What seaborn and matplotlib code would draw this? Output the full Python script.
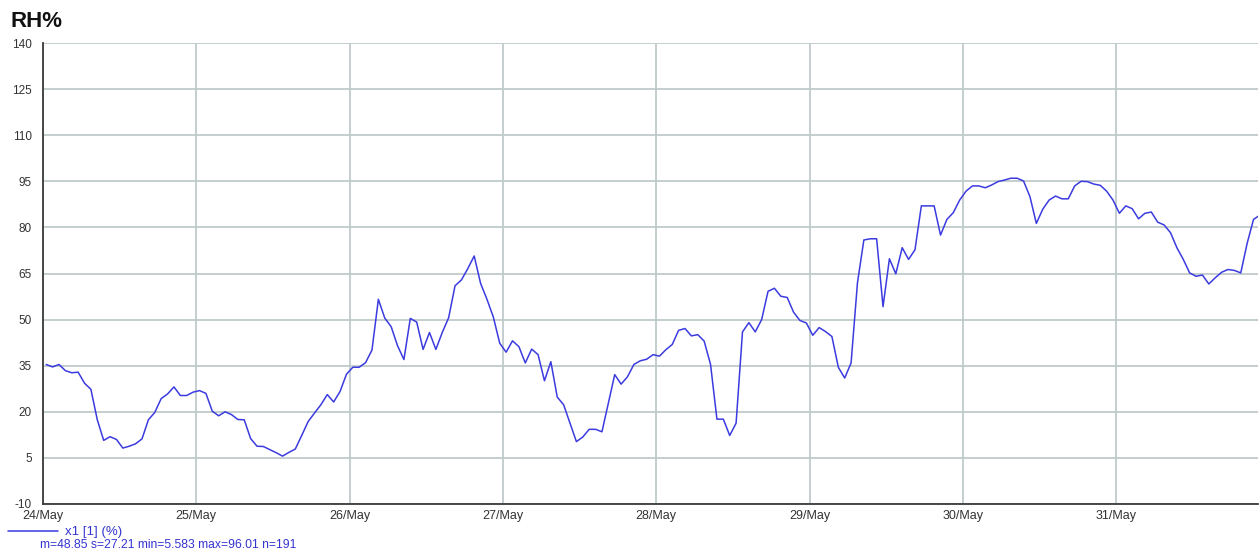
import matplotlib
matplotlib.use("Agg")
import matplotlib.dates as mdates
import matplotlib.pyplot as plt
import numpy as np
import pandas as pd
import seaborn as sns

# hourly relative humidity readings, first sample 24/May 00:30
START = "2021-05-24 00:30"
rh = [
    35.4, 34.6, 35.4, 33.4, 32.7, 32.9, 29.3, 27.3, 17.4, 10.7,
    11.9, 11.0, 8.2, 8.8, 9.6, 11.2, 17.4, 19.8, 24.3, 25.8,
    28.1, 25.3, 25.3, 26.4, 26.9, 26.0, 20.2, 18.7, 20.0, 19.1,
    17.5, 17.4, 11.3, 8.8, 8.7, 7.7, 6.7, 5.58, 6.8, 7.9,
    12.3, 16.8, 19.6, 22.3, 25.6, 23.2, 26.6, 32.2, 34.5, 34.5,
    36.0, 40.1, 56.6, 50.5, 47.7, 41.5, 37.0, 50.4, 49.2, 40.3,
    45.8, 40.3, 45.8, 50.6, 61.0, 62.9, 66.6, 70.7, 61.8, 56.6,
    50.8, 42.3, 39.4, 43.1, 41.2, 35.9, 40.4, 38.6, 30.1, 36.3,
    24.8, 22.3, 16.3, 10.3, 11.8, 14.3, 14.3, 13.5, 22.8, 32.1,
    29.0, 31.4, 35.4, 36.6, 37.1, 38.6, 38.1, 40.2, 41.9, 46.5,
    47.1, 44.7, 45.1, 43.0, 35.4, 17.6, 17.6, 12.3, 16.3, 46.0,
    49.0, 46.0, 50.0, 59.2, 60.2, 57.6, 57.2, 52.4, 49.7, 48.9,
    44.9, 47.4, 46.1, 44.5, 34.5, 31.0, 35.9, 62.0, 75.9, 76.3,
    76.3, 54.2, 69.8, 64.9, 73.4, 69.6, 72.7, 87.0, 87.0, 87.0,
    77.5, 82.6, 84.8, 88.9, 91.8, 93.5, 93.5, 92.9, 93.8, 94.9,
    95.4, 96.0, 96.0, 95.1, 90.0, 81.3, 85.9, 88.9, 90.2, 89.3,
    89.3, 93.5, 95.0, 94.9, 94.1, 93.7, 91.8, 88.9, 84.6, 87.0,
    86.1, 82.8, 84.6, 85.0, 81.7, 80.8, 78.3, 73.4, 69.6, 65.2,
    64.1, 64.5, 61.6, 63.6, 65.4, 66.3, 66.0, 65.2, 74.8, 82.6,
    84.0,
]
y_ticks = list(range(-10, 141, 15))
series_label = "x1 [1] (%)"
stats_label = "m=48.85 s=27.21 min=5.583 max=96.01 n=191"

df = pd.DataFrame({"time": pd.date_range(START, periods=len(rh), freq="h"), "rh": rh})

sns.set_style("white")
plt.rcParams["font.family"] = ["Liberation Sans", "DejaVu Sans"]
plt.rcParams["axes.unicode_minus"] = False

LINE = "#3b3be0"
GRID = "#bfcaca"
TEXT_BLUE = "#3434d0"

fig = plt.figure(figsize=(12.6, 5.54), dpi=100)
ax = fig.add_axes([43 / 1260, 1 - 504 / 554, 1215 / 1260, 461 / 554])

sns.lineplot(data=df, x="time", y="rh", color=LINE, lw=1.1, ax=ax, label=series_label)

day0 = pd.Timestamp("2021-05-24 00:00")
ax.set_xlim(day0, day0 + pd.Timedelta(hours=190.2))
ax.set_ylim(-10, 140)
ax.set_yticks(y_ticks)
ax.xaxis.set_major_locator(mdates.DayLocator())
ax.xaxis.set_major_formatter(mdates.DateFormatter("%d/%b"))
ax.set_xlabel("")
ax.set_ylabel("")

ax.grid(True, color=GRID, lw=1.3)
ax.set_axisbelow(True)
for side in ["top", "right"]:
    ax.spines[side].set_visible(False)
for side in ["left", "bottom"]:
    ax.spines[side].set_color("#3a3a3a")
    ax.spines[side].set_linewidth(1.3)

ax.tick_params(axis="y", direction="out", length=6, width=1, color="#3a3a3a",
               pad=2, labelsize=8.5, labelcolor="#333333")
ax.tick_params(axis="x", direction="out", length=3, width=1, color="#3a3a3a",
               pad=1, labelsize=9, labelcolor="#333333")

ax.legend(loc="upper left", bbox_to_anchor=(8 / 1260, 1 - 526 / 554),
          bbox_transform=fig.transFigure, frameon=False, fontsize=9.5,
          handlelength=3.8, handletextpad=0.5, borderpad=0, borderaxespad=0,
          labelcolor=TEXT_BLUE)
fig.text(40 / 1260, 1 - 545 / 554, stats_label, fontsize=8.7, color=TEXT_BLUE,
         ha="left", va="center")
fig.text(10 / 1260, 1 - 27 / 554, "RH%", fontsize=16, fontweight="bold",
         color="#111111", ha="left", va="baseline")

fig.savefig("out.png", dpi=100)
